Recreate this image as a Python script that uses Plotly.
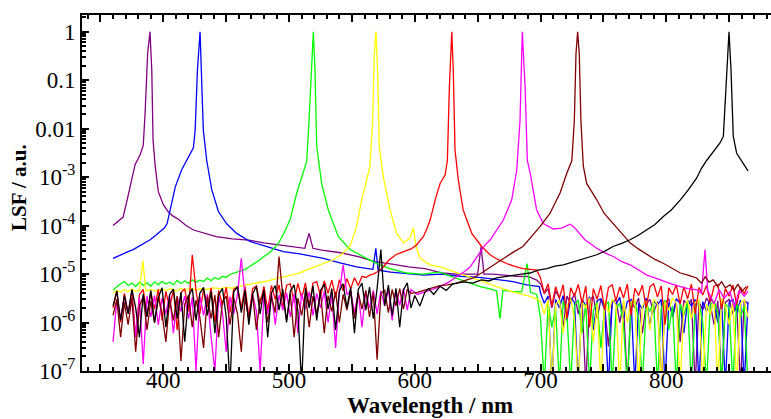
import plotly.graph_objects as go

# ---------------- data (LSF values) ----------------
# shared wavelength grids (nm) for the noisy detector-floor sections
floor_wl = list(range(360, 600, 3))   # 360 ... 597 (80 points)
tail_wl = list(range(700, 866, 3))    # 700 ... 865 (56 points)

purple_wl = [360, 364, 368, 371, 374, 377.5, 381.5, 384, 385.5, 387.5,
             389.4, 390.8, 391.8, 393.5, 396, 400, 404, 408, 412, 418,
             424, 432, 442, 455, 468, 480, 492, 500, 508, 512.5,
             515.9, 519, 526, 541, 555, 568, 582, 595, 608, 622,
             633, 643, 650, 652.7, 655, 662, 671, 681, 690, 697]
purple_val = [1.0e-4, 1.2e-4, 1.5e-4, 3.2e-4, 7e-4, 1.8e-3, 2.9e-3, 4.5e-3, 2.1e-2, 3.6e-1,
              1.0, 1.6e-1, 5.9e-3, 1.7e-3, 5.0e-4, 2.7e-4, 1.9e-4, 1.55e-4, 1.35e-4, 1.0e-4,
              8.1e-5, 7.0e-5, 5.9e-5, 5.3e-5, 5.0e-5, 4.4e-5, 4.0e-5, 3.7e-5, 3.4e-5, 3.4e-5,
              6.9e-5, 3.4e-5, 3.1e-5, 2.75e-5, 2.3e-5, 1.8e-5, 1.6e-5, 1.4e-5, 1.3e-5, 1.05e-5,
              1.0e-5, 1.0e-5, 1.0e-5, 3.7e-5, 1.0e-5, 1.0e-5, 9.5e-6, 9.0e-6, 8.9e-6, 7.5e-6]
purple_tail = [6.3e-6, 4.0e-6, 5.0e-6, 2.0e-6, 4.5e-6, 3.2e-6, 8e-7, 3.5e-6, 2.5e-6, 4.0e-6,
               1.5e-6, 3.0e-6, 5e-8, 2.8e-6, 3.5e-6, 1.2e-6, 3.0e-6, 2.2e-6, 3.2e-7, 2.6e-6,
               3.0e-6, 1.0e-6, 2.5e-6, 5e-8, 2.8e-6, 2.0e-6, 3.2e-6, 6e-7, 2.4e-6, 3.0e-6,
               1.6e-6, 2.7e-6, 5e-8, 2.5e-6, 3.1e-6, 1.3e-6, 2.6e-6, 4e-7, 2.9e-6, 2.2e-6,
               3.0e-6, 5e-8, 2.7e-6, 1.8e-6, 3.2e-6, 2.4e-6, 9e-7, 2.8e-6, 5e-8, 2.6e-6,
               3.0e-6, 1.5e-6, 2.5e-6, 5e-8, 2.9e-6, 2.4e-6]

blue_wl = [360, 366, 372, 376, 382, 389.5, 394, 397.5, 401, 403,
           405.5, 409.5, 414.5, 420, 423.9, 425.3, 427.1, 429.2, 430.5, 431.8,
           434.5, 438.5, 443.8, 450.2, 458.3, 468.9, 482.4, 495.4, 508.5, 527.3,
           540.6, 553.7, 562.7, 566.7, 569, 570.8, 580.8, 590.8, 606.9, 621,
           636, 651, 666, 678, 689, 699]
blue_val = [2.1e-5, 2.5e-5, 2.9e-5, 3.2e-5, 4.0e-5, 5.1e-5, 6.3e-5, 7.6e-5, 9.0e-5, 1.1e-4,
            2.1e-4, 6.3e-4, 1.4e-3, 2.5e-3, 4.0e-3, 9.3e-3, 1.6e-1, 1.0, 1.0e-1, 9.3e-3,
            2.2e-3, 5.5e-4, 1.95e-4, 1.1e-4, 6.9e-5, 4.7e-5, 3.7e-5, 2.9e-5, 2.6e-5, 2.1e-5,
            1.7e-5, 1.4e-5, 1.3e-5, 1.25e-5, 3.4e-5, 1.2e-5, 1.1e-5, 1.05e-5, 9.5e-6, 1.0e-5,
            9e-6, 8.5e-6, 7.5e-6, 7.0e-6, 6.0e-6, 5.5e-6]
blue_tail = [4.0e-6, 2.5e-6, 3.5e-6, 5e-8, 3.0e-6, 2.0e-6, 3.6e-6, 1.1e-6, 3.2e-6, 2.6e-6,
             5e-8, 3.0e-6, 2.2e-6, 3.4e-6, 7e-7, 2.8e-6, 3.1e-6, 1.8e-6, 5e-8, 2.9e-6,
             2.4e-6, 3.3e-6, 1.2e-6, 2.7e-6, 3.0e-6, 5e-8, 2.5e-6, 1.9e-6, 3.2e-6, 8e-7,
             2.8e-6, 2.3e-6, 3.0e-6, 5e-8, 2.6e-6, 1.4e-6, 3.1e-6, 2.5e-6, 6e-7, 2.9e-6,
             2.2e-6, 3.0e-6, 5e-8, 2.7e-6, 1.7e-6, 3.3e-6, 2.4e-6, 1.0e-6, 2.8e-6, 5e-8,
             2.6e-6, 3.0e-6, 1.6e-6, 2.9e-6, 5e-8, 2.7e-6]

green_wl = [360, 363, 366, 369, 372, 375, 378, 381, 384, 387,
            390, 393, 396, 399, 402, 405, 408, 411, 414, 417,
            420, 423, 426, 429, 432, 435, 438, 441, 444, 447,
            450, 453, 456, 459, 462, 465, 468, 472, 476, 480,
            484, 488, 492, 496,
            500.7, 506.1, 510.1, 514, 515.9, 518, 519.3, 520.6, 522, 525.9,
            531.2, 539.2, 548.5, 561.6, 570.7, 580.3, 593.5, 605.9, 620, 631,
            641, 652, 659, 665, 667.7, 670, 677, 685, 689.3, 692, 697]
green_val = [4.7e-6, 5.5e-6, 6.3e-6, 7.0e-6, 5.8e-6, 6.5e-6, 5.5e-6, 6.8e-6, 5.9e-6, 6.6e-6,
             5.6e-6, 6.9e-6, 6.0e-6, 7.1e-6, 6.2e-6, 6.8e-6, 6.0e-6, 7.4e-6, 6.4e-6, 7.2e-6,
             6.5e-6, 7.6e-6, 6.8e-6, 7.5e-6, 7.0e-6, 8.3e-6, 7.3e-6, 8.5e-6, 7.8e-6, 9.0e-6,
             8.6e-6, 9.8e-6, 1.05e-5, 1.1e-5, 1.2e-5, 1.25e-5, 1.4e-5, 1.6e-5, 1.9e-5, 2.3e-5,
             2.7e-5, 3.4e-5, 4.5e-5, 7.0e-5,
             1.3e-4, 4.7e-4, 1.0e-3, 2.1e-3, 1.5e-2, 3.5e-1, 1.0, 1.6e-1, 4.3e-3, 7.4e-4,
             2.1e-4, 5.9e-5, 3.2e-5, 2.1e-5, 1.6e-5, 1.3e-5, 1.05e-5, 1.0e-5, 1.1e-5, 8.5e-6,
             7.0e-6, 5.5e-6, 5.0e-6, 4.5e-6, 1.2e-6, 4.6e-6, 4.4e-6, 4.3e-6, 1.65e-5, 4.2e-6, 3.8e-6]
green_tail = [1.2e-6, 5e-8, 2.5e-6, 8e-7, 2.0e-6, 5e-8, 2.8e-6, 1.5e-6, 5e-8, 2.2e-6,
              2.9e-6, 6e-7, 2.4e-6, 5e-8, 1.8e-6, 2.6e-6, 3e-7, 2.1e-6, 2.7e-6, 5e-8,
              1.9e-6, 2.5e-6, 9e-7, 5e-8, 2.3e-6, 2.8e-6, 1.2e-6, 5e-8, 2.4e-6, 1.7e-6,
              2.6e-6, 5e-8, 2.0e-6, 2.9e-6, 7e-7, 2.2e-6, 5e-8, 2.5e-6, 1.4e-6, 2.7e-6,
              5e-8, 2.1e-6, 2.6e-6, 1.0e-6, 5e-8, 2.3e-6, 2.8e-6, 1.6e-6, 5e-8, 2.4e-6,
              2.0e-6, 5e-8, 2.7e-6, 1.3e-6, 2.2e-6, 5e-8]

yellow_wl = [360, 363, 366, 369, 372, 375, 378, 381, 383.7, 386,
             390, 394, 398, 402, 406, 410, 414, 418, 422, 426,
             430, 435, 440, 445, 450, 455, 460, 465, 470, 476,
             482, 488, 494, 500, 508, 515, 522, 528, 534.9, 541.5,
             548.4, 553.7, 557.7, 561.7, 564.4, 566.5, 567.8, 569.1, 570.4, 571.7,
             575, 580.3, 585.6, 590.9, 596.2, 598.9, 601, 604.2, 612, 620,
             629, 639, 651, 665, 678, 691, 698]
yellow_val = [4.0e-6, 4.6e-6, 4.2e-6, 4.8e-6, 4.3e-6, 4.9e-6, 4.4e-6, 4.7e-6, 1.9e-5, 4.5e-6,
              4.8e-6, 4.4e-6, 4.9e-6, 4.6e-6, 5.0e-6, 4.5e-6, 5.0e-6, 4.6e-6, 5.1e-6, 4.7e-6,
              5.0e-6, 4.8e-6, 5.2e-6, 5.0e-6, 5.3e-6, 5.1e-6, 5.6e-6, 5.9e-6, 6.3e-6, 6.8e-6,
              7.1e-6, 7.9e-6, 8.6e-6, 9.3e-6, 1.05e-5, 1.25e-5, 1.45e-5, 1.65e-5, 1.95e-5, 2.5e-5,
              3.7e-5, 9.5e-5, 3.4e-4, 8.7e-4, 1.7e-3, 1.5e-2, 3.5e-1, 1.0, 1.6e-1, 4.3e-3,
              1.0e-3, 2.1e-4, 6.9e-5, 4.4e-5, 5.5e-5, 8.9e-5, 3.7e-5, 2.1e-5, 1.55e-5, 1.4e-5,
              1.15e-5, 9.5e-6, 7.5e-6, 5.5e-6, 4.3e-6, 3.5e-6, 3.0e-6]
yellow_tail = [2.6e-6, 1.5e-6, 3.0e-6, 5e-8, 2.4e-6, 2.9e-6, 6e-7, 2.2e-6, 3.1e-6, 1.1e-6,
               5e-8, 2.7e-6, 2.0e-6, 3.2e-6, 4e-7, 2.5e-6, 5e-8, 2.8e-6, 1.6e-6, 3.0e-6,
               2.3e-6, 5e-8, 2.9e-6, 1.0e-6, 2.6e-6, 3.1e-6, 5e-8, 2.2e-6, 2.8e-6, 7e-7,
               3.0e-6, 2.4e-6, 5e-8, 2.7e-6, 1.8e-6, 3.2e-6, 2.5e-6, 5e-8, 2.1e-6, 2.9e-6,
               1.2e-6, 2.6e-6, 3.0e-6, 5e-8, 2.4e-6, 1.5e-6, 2.8e-6, 5e-8, 3.1e-6, 2.2e-6,
               9e-7, 2.7e-6, 5e-8, 2.5e-6, 3.0e-6, 1.3e-6]

red_floor = [2.0e-6, 4.4e-6, 1.0e-6, 4.0e-6, 1.6e-6, 4.6e-6, 5e-7, 3.8e-6, 4.8e-6, 1.4e-6,
             4.2e-6, 1.9e-6, 4.9e-6, 1.1e-6, 4.4e-6, 2.0e-6, 4.8e-6, 7e-7, 4.1e-6, 5.0e-6,
             1.7e-6, 2.5e-5, 4.5e-6, 1.5e-6, 4.9e-6, 2.1e-6, 5.2e-6, 1.0e-6, 4.6e-6, 2.3e-6,
             5.3e-6, 1.6e-6, 4.9e-6, 5.4e-6, 2.0e-6, 5.5e-6, 1.3e-6, 5.0e-6, 5.7e-6, 2.4e-6,
             5.6e-6, 1.8e-6, 5.8e-6, 3.0e-6, 6.0e-6, 2.0e-6, 5.9e-6, 6.3e-6, 2.6e-6, 6.4e-6,
             3.2e-6, 6.6e-6, 2.2e-6, 6.5e-6, 7.0e-6, 3.5e-6, 7.2e-6, 4.0e-6, 7.5e-6, 3.3e-6,
             7.6e-6, 4.5e-6, 8.0e-6, 5.0e-6, 8.4e-6, 5.8e-6, 9.0e-6, 8.5e-6, 9.5e-6, 1.0e-5,
             1.1e-5, 1.25e-5, 1.5e-5, 1.9e-5, 2.2e-5, 2.5e-5, 2.7e-5, 2.9e-5, 3.1e-5, 3.3e-5]
red_wl = [601, 604, 606.8, 609.5, 612.2, 616.2, 620.1, 624.1, 625.9, 627.5,
          629.4, 630.6, 632, 634.6, 638.5, 645.3, 653.2, 659.8, 666, 673,
          679, 686, 691, 697]
red_val = [3.9e-5, 4.8e-5, 5.9e-5, 8.5e-5, 1.3e-4, 3.4e-4, 7.4e-4, 1.1e-3, 2.2e-3, 7.4e-2,
           1.0, 1.6e-1, 3.6e-3, 8.7e-4, 2.1e-4, 6.9e-5, 3.7e-5, 2.5e-5, 2.0e-5, 1.65e-5,
           1.45e-5, 1.3e-5, 1.25e-5, 1.2e-5]
red_tail = [8.3e-6, 4.0e-6, 6.3e-6, 2.2e-6, 5.5e-6, 3.2e-6, 6.0e-6, 1.2e-6, 5.2e-6, 3.5e-6,
            6.1e-6, 2.5e-6, 5.6e-6, 8e-7, 5.0e-6, 3.0e-6, 5.8e-6, 1.8e-6, 5.3e-6, 6.0e-6,
            2.8e-6, 5.4e-6, 3.2e-6, 6.2e-6, 1.4e-6, 5.1e-6, 3.6e-6, 5.9e-6, 2.0e-6, 5.5e-6,
            6.3e-6, 3.4e-6, 5.7e-6, 9e-7, 5.2e-6, 3.8e-6, 6.0e-6, 2.4e-6, 5.5e-6, 3.1e-6,
            6.2e-6, 1.5e-6, 5.3e-6, 3.7e-6, 5.8e-6, 2.6e-6, 5.6e-6, 6.1e-6, 1.9e-6, 5.0e-6,
            3.5e-6, 5.9e-6, 2.3e-6, 5.4e-6, 3.9e-6, 5.7e-6]

magenta_floor = [4e-7, 3.0e-6, 1.2e-6, 3.4e-6, 1.6e-6, 3.1e-6, 5e-7, 3.3e-6, 1.4e-7, 3.5e-6,
                 1.3e-6, 3.6e-6, 9e-7, 3.2e-6, 1.5e-6, 3.7e-6, 6e-7, 3.4e-6, 1.7e-6, 3.5e-6,
                 1.2e-6, 3.3e-6, 1.0e-7, 3.6e-6, 1.4e-6, 3.8e-6, 5e-7, 1.0e-7, 3.5e-6, 1.6e-6,
                 2.5e-7, 3.4e-6, 1.5e-6, 3.9e-6, 2.1e-5, 3.3e-6, 1.2e-6, 3.8e-6, 1.7e-6, 1.0e-7,
                 3.6e-6, 1.5e-6, 4.0e-6, 9e-7, 3.7e-6, 1.8e-6, 4.1e-6, 1.3e-6, 3.9e-6, 6e-7,
                 4.0e-6, 1.9e-6, 4.3e-6, 1.4e-6, 4.0e-6, 2.0e-6, 4.4e-6, 1.0e-6, 3.9e-6, 3e-7,
                 4.2e-6, 1.55e-5, 3.8e-6, 4.5e-6, 1.6e-6, 4.2e-6, 8e-7, 4.4e-6, 2.0e-6, 4.6e-6,
                 1.5e-6, 4.5e-6, 2.2e-6, 4.8e-6, 1.1e-6, 4.6e-6, 2.3e-6, 5.0e-6, 1.8e-6, 4.8e-6]
magenta_wl = [602, 608, 614, 620, 627, 633.5, 639, 644, 648, 652.8,
              656, 660, 665, 670.4, 677.1, 681.1, 683.7, 685.5, 687.7, 689.5,
              691.8, 694.3, 696.9, 702.2, 710.1, 716.8, 721.3, 723.4, 726.3, 728.6,
              735.3, 744.7, 751.5, 757.9, 764.6, 771.2, 777.8, 784.6, 791, 797.9,
              804, 811.2, 817.2, 824.5, 828, 830.8, 833, 838, 842, 846,
              850.7, 854, 858, 862, 865]
magenta_val = [3.8e-6, 4.2e-6, 4.8e-6, 5.5e-6, 6.8e-6, 8.9e-6, 1.1e-5, 1.4e-5, 2.0e-5, 3.2e-5,
               4.0e-5, 5.1e-5, 8.0e-5, 1.3e-4, 3.4e-4, 1.4e-3, 1.5e-2, 1.0, 7.4e-2, 2.2e-3,
               1.2e-3, 4.7e-4, 2.1e-4, 1.1e-4, 8.5e-5, 8.9e-5, 1.0e-4, 1.07e-4, 9.5e-5, 8.1e-5,
               5.1e-5, 3.4e-5, 2.7e-5, 2.3e-5, 1.8e-5, 1.55e-5, 1.2e-5, 9.5e-6, 8.3e-6, 7.1e-6,
               6.3e-6, 5.5e-6, 5.0e-6, 4.7e-6, 4.0e-6, 3.2e-5, 4.5e-6, 2.4e-6, 4.8e-6, 3.2e-6,
               4.4e-6, 2.0e-6, 4.6e-6, 3.5e-6, 4.4e-6]

darkred_floor = [1.4e-6, 3.0e-6, 5e-7, 2.6e-6, 9e-7, 3.2e-6, 2.5e-7, 2.2e-6, 3.4e-6, 7e-7,
                 2.8e-6, 1.0e-6, 3.3e-6, 1.5e-6, 4e-7, 3.0e-6, 1.1e-6, 3.5e-6, 1.6e-7, 2.4e-6,
                 3.6e-6, 8e-7, 2.9e-6, 1.3e-6, 3e-7, 3.4e-6, 1.2e-6, 3.7e-6, 5e-7, 2.7e-6,
                 3.5e-6, 9e-7, 3.2e-6, 1.5e-6, 2.5e-7, 3.3e-6, 1.2e-6, 3.8e-6, 7e-7, 3.0e-6,
                 3.9e-6, 1.0e-6, 3.4e-6, 1.6e-6, 2.3e-5, 3.5e-6, 1.1e-6, 3.9e-6, 5e-7, 3.2e-6,
                 1.4e-6, 4.0e-6, 8e-7, 3.5e-6, 1.5e-6, 4.2e-6, 6e-7, 3.6e-6, 1.7e-6, 4.3e-6,
                 1.0e-6, 3.8e-6, 1.8e-6, 4.4e-6, 1.2e-6, 4.1e-6, 1.9e-6, 4.6e-6, 1.3e-6, 4.2e-6,
                 1.7e-7, 3.9e-6, 4.7e-6, 1.6e-6, 4.8e-6, 2.2e-6, 5.0e-6, 1.9e-6, 4.9e-6, 4.0e-6]
darkred_wl = [602, 608, 614, 620, 626, 633, 639, 646.5, 653, 660,
              666, 673, 679, 686, 691.7, 699.6, 707.6, 715.5, 720.9, 724.9,
              726.9, 728.2, 729.5, 730.8, 732.1, 734, 736.7, 744.7, 750.5, 757.9,
              764.6, 771.2, 777.8, 784.6, 791, 797.9, 804, 811.2, 817.2, 824.1,
              828, 831, 834, 837.3, 841, 844, 847, 850.7, 854, 857,
              860, 863.8]
darkred_val = [4.2e-6, 4.6e-6, 5.2e-6, 5.8e-6, 6.0e-6, 6.5e-6, 7.3e-6, 8.3e-6, 1.05e-5, 1.4e-5,
               1.8e-5, 2.3e-5, 2.9e-5, 3.7e-5, 5.5e-5, 9.5e-5, 1.8e-4, 4.7e-4, 1.2e-3, 2.2e-3,
               1.5e-2, 3.5e-1, 1.0, 3.5e-1, 1.5e-2, 1.7e-3, 7.4e-4, 3.4e-4, 1.8e-4, 1.1e-4,
               6.8e-5, 4.4e-5, 3.3e-5, 2.5e-5, 2.0e-5, 1.65e-5, 1.35e-5, 1.05e-5, 9.5e-6, 8.3e-6,
               6.5e-6, 8.8e-6, 6.8e-6, 7.6e-6, 5.5e-6, 7.0e-6, 5.2e-6, 6.0e-6, 4.6e-6, 6.2e-6,
               4.4e-6, 5.5e-6]

black_floor = [2.2e-6, 4.5e-6, 1.1e-6, 3.6e-6, 1.5e-6, 4.8e-6, 2.0e-6, 5e-7, 3.9e-6, 1.3e-6,
               4.6e-6, 1.0e-6, 3.3e-6, 5.2e-6, 8e-7, 3.8e-6, 4.9e-6, 1.2e-6, 4.2e-6, 4e-7,
               3.5e-6, 5.0e-6, 1.1e-6, 4.0e-6, 5.3e-6, 1.4e-6, 4.4e-6, 6e-7, 3.7e-6, 5.1e-6,
               1.3e-6, 5e-8, 4.3e-6, 5.5e-6, 1.6e-6, 4.7e-6, 9e-7, 3.9e-6, 5.6e-6, 1.5e-6,
               4.8e-6, 5e-7, 4.1e-6, 5.8e-6, 1.8e-6, 4.9e-6, 1.0e-6, 4.4e-6, 6.0e-6, 1.7e-6,
               5e-8, 5.2e-6, 2.0e-6, 5.7e-6, 1.1e-6, 4.6e-6, 6.2e-6, 1.9e-6, 5.0e-6, 7e-7,
               4.5e-6, 6.3e-6, 2.0e-6, 5.3e-6, 6e-7, 4.8e-6, 6.5e-6, 1.8e-6, 5.4e-6, 1.2e-6,
               5.0e-6, 3.2e-5, 2.2e-6, 5.9e-6, 1.4e-6, 5.1e-6, 8e-7, 4.7e-6, 6.6e-6, 2.0e-6]
black_wl = [600, 604, 608, 611, 615, 620, 625, 630, 638.5, 646,
            653, 659, 665, 672, 678, 685, 691.7, 698, 705, 711.5,
            718.2, 724.5, 731.5, 737.5, 744.7, 751.6, 757.6, 764.6, 771.2, 777.8,
            784.6, 791, 797.9, 804, 811.2, 817.2, 824.1, 827.9, 832.1, 838.7,
            842.6, 845.4, 847.3, 849.9, 851.5, 853.3, 856, 861.3, 865]
black_val = [3.6e-6, 2.2e-6, 4.2e-6, 5.0e-6, 3.8e-6, 5.6e-6, 4.6e-6, 6.2e-6, 6.9e-6, 6.5e-6,
             7.6e-6, 7.2e-6, 8.3e-6, 8.9e-6, 9.5e-6, 1.0e-5, 1.05e-5, 1.2e-5, 1.3e-5, 1.45e-5,
             1.55e-5, 1.75e-5, 2.0e-5, 2.2e-5, 2.5e-5, 3.0e-5, 3.7e-5, 4.3e-5, 5.1e-5, 6.3e-5,
             8.1e-5, 1.05e-4, 1.55e-4, 2.1e-4, 3.4e-4, 5.3e-4, 9.5e-4, 1.5e-3, 2.2e-3, 3.6e-3,
             5.0e-3, 6.9e-3, 7.4e-2, 1.0, 1.6e-1, 6.9e-3, 3.1e-3, 1.95e-3, 1.35e-3]

y_tickvals = [1e-7, 1e-6, 1e-5, 1e-4, 1e-3, 0.01, 0.1, 1]
y_ticktext = ["10<sup>-7</sup>", "10<sup>-6</sup>", "10<sup>-5</sup>", "10<sup>-4</sup>",
              "10<sup>-3</sup>", "0.01", "0.1", "1"]
x_tickvals = [350, 400, 450, 500, 550, 600, 650, 700, 750, 800, 850]
x_ticktext = ["", "400", "", "500", "", "600", "", "700", "", "800", ""]

# ---------------- series assembly ----------------
series = [
    ("#800080", purple_wl + tail_wl, purple_val + purple_tail),
    ("#0000FF", blue_wl + tail_wl, blue_val + blue_tail),
    ("#00FF00", green_wl + tail_wl, green_val + green_tail),
    ("#FFFF00", yellow_wl + tail_wl, yellow_val + yellow_tail),
    ("#FF0000", floor_wl + red_wl + tail_wl, red_floor + red_val + red_tail),
    ("#FF00FF", floor_wl + magenta_wl, magenta_floor + magenta_val),
    ("#800000", floor_wl + darkred_wl, darkred_floor + darkred_val),
    ("#000000", floor_wl + black_wl, black_floor + black_val),
]

fig = go.Figure()
for color, xs, ys in series:
    fig.add_trace(go.Scatter(x=xs, y=ys, mode="lines",
                             line=dict(color=color, width=1.3),
                             hoverinfo="skip", showlegend=False))

FONT = "Liberation Serif, Times New Roman, serif"
fig.update_layout(
    width=771, height=419,
    margin=dict(l=82, r=0, t=15, b=48),
    paper_bgcolor="white", plot_bgcolor="white",
    font=dict(family=FONT, color="black", size=23),
    showlegend=False,
    xaxis=dict(
        range=[335.3, 883.3], showgrid=False, zeroline=False,
        showline=True, linecolor="black", linewidth=2, mirror="ticks",
        tickmode="array", tickvals=x_tickvals, ticktext=x_ticktext,
        ticks="inside", ticklen=7, tickwidth=2, tickcolor="black",
        ticklabelstandoff=-13,
        tickfont=dict(family=FONT, size=23, color="black"),
        minor=dict(dtick=10, tick0=0, ticks="inside", ticklen=4, tickwidth=1.5,
                   tickcolor="black", showgrid=False),
    ),
    yaxis=dict(
        type="log", range=[-7, 0.344], showgrid=False, zeroline=False,
        showline=True, linecolor="black", linewidth=2, mirror=False,
        tickmode="array", tickvals=y_tickvals, ticktext=y_ticktext,
        ticks="inside", ticklen=7, tickwidth=2, tickcolor="black",
        tickfont=dict(family=FONT, size=23, color="black"),
        minor=dict(dtick="D1", ticks="inside", ticklen=4, tickwidth=1.5,
                   tickcolor="black", showgrid=False),
    ),
    annotations=[
        dict(text="<b>Wavelength / nm</b>", xref="paper", yref="paper",
             x=0.5046, y=-0.098, xanchor="center", yanchor="middle",
             showarrow=False, font=dict(family=FONT, size=23, color="black")),
        dict(text="<b>LSF / a.u.</b>", xref="paper", yref="paper",
             x=-0.0914, y=0.514, xanchor="center", yanchor="middle", textangle=-90,
             showarrow=False, font=dict(family=FONT, size=21, color="black")),
    ],
)

fig.write_html("out.html", config={"displayModeBar": False},
               post_script="document.body.style.margin='0';document.body.style.padding='0';")
